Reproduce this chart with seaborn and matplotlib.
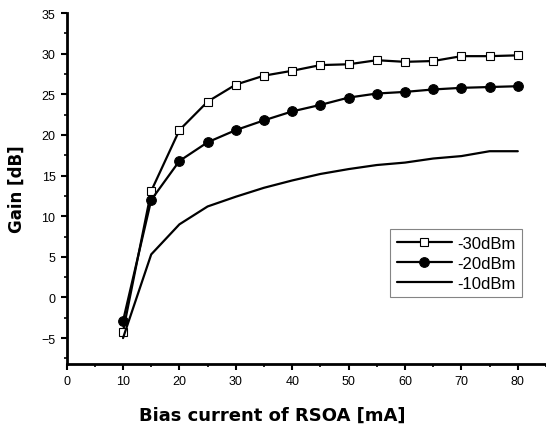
import matplotlib
matplotlib.use("Agg")
import matplotlib.pyplot as plt
import numpy as np
import pandas as pd
import seaborn as sns
from matplotlib.ticker import MultipleLocator

# bias current [mA]
bias = [10, 15, 20, 25, 30, 35, 40, 45, 50, 55, 60, 65, 70, 75, 80]

# gain [dB] per input power
gain_m30 = [-4.2, 13.1, 20.6, 24.1, 26.2, 27.3, 27.9, 28.6, 28.7, 29.2, 29.0, 29.1, 29.7, 29.7, 29.8]
gain_m20 = [-2.9, 12.0, 16.8, 19.1, 20.6, 21.8, 22.9, 23.7, 24.6, 25.1, 25.3, 25.6, 25.8, 25.9, 26.0]
gain_m10 = [-5.0, 5.3, 9.0, 11.2, 12.4, 13.5, 14.4, 15.2, 15.8, 16.3, 16.6, 17.1, 17.4, 18.0, 18.0]

labels = ["-30dBm", "-20dBm", "-10dBm"]

df = pd.DataFrame({"bias": bias, labels[0]: gain_m30, labels[1]: gain_m20, labels[2]: gain_m10})
long = df.melt(id_vars="bias", var_name="power", value_name="gain")

sns.set_style("ticks")
plt.rcParams["font.family"] = ["Liberation Sans", "DejaVu Sans"]
plt.rcParams["text.color"] = "black"
plt.rcParams["axes.labelcolor"] = "black"
plt.rcParams["xtick.color"] = "black"
plt.rcParams["ytick.color"] = "black"
plt.rcParams["axes.edgecolor"] = "black"

fig = plt.figure(figsize=(5.46, 4.27), dpi=100)
ax = fig.add_axes([0.122, 0.145, 0.878, 0.822])

styles = {
    "-30dBm": dict(marker="s", markersize=6, markerfacecolor="white", markeredgecolor="black", markeredgewidth=0.8),
    "-20dBm": dict(marker="o", markersize=7, markerfacecolor="black", markeredgecolor="black"),
    "-10dBm": dict(marker=None),
}
for lab in labels:
    sub = long[long["power"] == lab]
    sns.lineplot(data=sub, x="bias", y="gain", color="black", linewidth=1.6,
                 label=lab, ax=ax, **styles[lab])

ax.set_xlim(0, 85)
ax.set_ylim(-8.2, 35)
ax.xaxis.set_major_locator(MultipleLocator(10))
ax.xaxis.set_minor_locator(MultipleLocator(5))
ax.yaxis.set_major_locator(MultipleLocator(5))
ax.yaxis.set_minor_locator(MultipleLocator(2.5))
ax.tick_params(which="major", direction="out", length=4, width=1.5, labelsize=9, pad=4)
ax.tick_params(which="minor", direction="out", length=2, width=1.2)

sns.despine(ax=ax)
for s in ["left", "bottom"]:
    ax.spines[s].set_linewidth(2)

ax.set_xlabel("Bias current of RSOA [mA]", fontsize=13, fontweight="bold",
              family=["DejaVu Sans"])
ax.set_ylabel("Gain [dB]", fontsize=12, fontweight="bold", family=["DejaVu Sans"])
ax.xaxis.set_label_coords(0.43, -0.12)
ax.yaxis.set_label_coords(-0.085, 0.5)

leg = ax.legend(loc="upper left", bbox_to_anchor=(0.675, 0.385), fontsize=12,
                frameon=True, fancybox=False, edgecolor="#666666",
                handlelength=3.3, handletextpad=0.3, borderpad=0.4, labelspacing=0.3,
                borderaxespad=0)
leg.get_frame().set_linewidth(0.8)

fig.savefig("out.png", dpi=100)
